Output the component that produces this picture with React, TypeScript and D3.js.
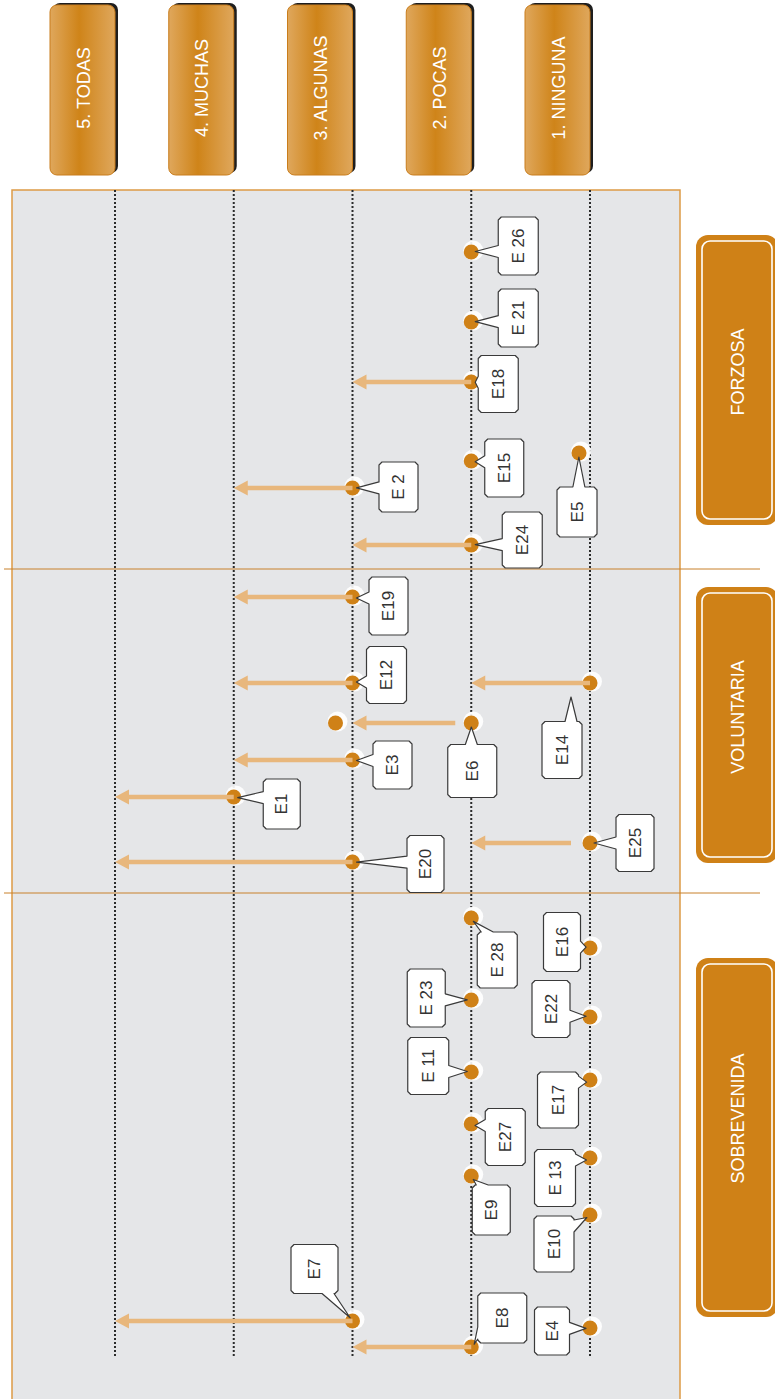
import React, { useRef, useEffect } from "react";
import * as d3 from "d3";

/* levels, left to right */
const levels = ["5. TODAS", "4. MUCHAS", "3. ALGUNAS", "2. POCAS", "1. NINGUNA"];
const levelValues = [5, 4, 3, 2, 1];

/* sections, top to bottom, as rows on the vertical axis */
const sections = ["FORZOSA", "VOLUNTARIA", "SOBREVENIDA"];
const sectionStart = [0, 379, 703];
const sectionEnd = [379, 703, 1209];

/* cases: label, level before, level after, row */
const forzosaCases = ["E 26", "E 21", "E18", "E15", "E5", "E 2", "E24"];
const forzosaFrom = [2, 2, 2, 2, 1, 3, 2];
const forzosaTo = [2, 2, 3, 2, 1, 4, 3];
const forzosaRow = [62, 132, 192, 271, 263, 298, 355];

const voluntariaCases = ["E19", "E12", "E14", "E6", "E3", "E1", "E25", "E20"];
const voluntariaFrom = [3, 3, 1, 2, 3, 4, 1, 3];
const voluntariaTo = [4, 4, 2, 3, 4, 5, 2, 5];
const voluntariaRow = [407, 493, 493, 533, 570, 607, 653, 672];

const sobrevenidaCases = ["E 28", "E16", "E 23", "E22", "E 11", "E17", "E27", "E 13", "E9", "E10", "E7", "E4", "E8"];
const sobrevenidaFrom = [2, 1, 2, 1, 2, 1, 2, 1, 2, 1, 3, 1, 2];
const sobrevenidaTo = [2, 1, 2, 1, 2, 1, 2, 1, 2, 1, 5, 1, 3];
const sobrevenidaRow = [728, 758, 810, 827, 882, 890, 934, 968, 986, 1025, 1131, 1138, 1157];

/* cases whose new level is also marked with a dot */
const markedArrival = ["E6"];

/* callout placement (box centre offset from the level line, box size) */
const calloutLayout: Record<string, any> = {
  "E 26": { dx: 47, dy: -6, w: 40, h: 58 },
  "E 21": { dx: 47, dy: -4, w: 40, h: 58 },
  E18: { dx: 27, dy: 2, w: 40, h: 57 },
  E15: { dx: 33, dy: 7, w: 39, h: 58 },
  E5: { dx: -13, dy: 59, w: 40, h: 50, shift: -11 },
  "E 2": { dx: 46, dy: -1, w: 39, h: 50 },
  E24: { dx: 51, dy: -5, w: 40, h: 56 },
  E19: { dx: 36, dy: 9, w: 39, h: 58 },
  E12: { dx: 34, dy: -8, w: 40, h: 57 },
  E14: { dx: -28, dy: 67, w: 40, h: 57, tip: [-19, 14] },
  E6: { dx: 1, dy: 48, w: 49, h: 53, gap: 16, endShift: -17 },
  E3: { dx: 40, dy: 5, w: 39, h: 48 },
  E1: { dx: 48, dy: 7, w: 37, h: 50 },
  E25: { dx: 45, dy: 0, w: 38, h: 57, gap: 19 },
  E20: { dx: 73, dy: 2, w: 37, h: 57 },
  "E 28": { dx: 26, dy: 42, w: 40, h: 56 },
  E16: { dx: -28, dy: -6, w: 37, h: 59 },
  "E 23": { dx: -45, dy: -2, w: 38, h: 58 },
  E22: { dx: -39, dy: -8, w: 38, h: 57 },
  "E 11": { dx: -43, dy: -6, w: 41, h: 57 },
  E17: { dx: -32, dy: 20, w: 41, h: 56 },
  E27: { dx: 34, dy: 13, w: 40, h: 57 },
  "E 13": { dx: -35, dy: 20, w: 41, h: 57 },
  E9: { dx: 20, dy: 34, w: 38, h: 50 },
  E10: { dx: -36, dy: 29, w: 40, h: 56 },
  E7: { dx: -38, dy: -52, w: 47, h: 49 },
  E4: { dx: -38, dy: 3, w: 35, h: 48 },
  E8: { dx: 31, dy: -29, w: 49, h: 50 },
};

/* section label box insets (top, bottom) and text shift */
const sectionInsetTop = [45, 18, 65];
const sectionInsetBottom = [44, 30, 82];
const sectionTextShift = [-8, -8, -19];

const W = 775;
const H = 1399;
const FONT = "'Liberation Sans', Arial, Helvetica, sans-serif";
const ORANGE = "#cf8117";
const ARROW = "#e8b77c";

/* callout path: chamfered box with a pointer towards (tx, ty) */
const calloutPath = (x0, y0, x1, y1, tx, ty) => {
  const c = 3;
  const b = 6;
  const ox = tx < x0 ? x0 - tx : tx > x1 ? tx - x1 : 0;
  const oy = ty < y0 ? y0 - ty : ty > y1 ? ty - y1 : 0;
  const side = ox >= oy ? (tx < x0 ? "left" : "right") : ty < y0 ? "top" : "bottom";
  const clamp = (v, lo, hi) => Math.max(lo, Math.min(hi, v));
  const by = clamp(ty, y0 + c + b + 1, y1 - c - b - 1);
  const bx = clamp(tx, x0 + c + b + 1, x1 - c - b - 1);
  const p = [];
  p.push(`M${x0 + c},${y0}`);
  if (side === "top") p.push(`L${bx - b},${y0}L${tx},${ty}L${bx + b},${y0}`);
  p.push(`L${x1 - c},${y0}L${x1},${y0 + c}`);
  if (side === "right") p.push(`L${x1},${by - b}L${tx},${ty}L${x1},${by + b}`);
  p.push(`L${x1},${y1 - c}L${x1 - c},${y1}`);
  if (side === "bottom") p.push(`L${bx + b},${y1}L${tx},${ty}L${bx - b},${y1}`);
  p.push(`L${x0 + c},${y1}L${x0},${y1 - c}`);
  if (side === "left") p.push(`L${x0},${by + b}L${tx},${ty}L${x0},${by - b}`);
  p.push(`L${x0},${y0 + c}Z`);
  return p.join("");
};

const App = () => {
  const svgRef = useRef(null);

  const drawChart = () => {
    const svg = d3.select(svgRef.current);
    svg.selectAll("*").remove();
    svg.attr("width", W).attr("height", H);

    const x = d3.scalePoint<number>().domain(levelValues).range([115, 590]);
    const y = d3.scaleLinear().domain([0, 1209]).range([190, 1399]);

    /* gradient for level buttons */
    const defs = svg.append("defs");
    const grad = defs
      .append("linearGradient")
      .attr("id", "btnGrad")
      .attr("x1", "0%")
      .attr("x2", "100%")
      .attr("y1", "0%")
      .attr("y2", "0%");
    grad.append("stop").attr("offset", "0%").attr("stop-color", "#dfa75c");
    grad.append("stop").attr("offset", "45%").attr("stop-color", "#cf8419");
    grad.append("stop").attr("offset", "100%").attr("stop-color", "#dfa75c");

    /* level buttons */
    const btnW = 65;
    const btn = svg
      .append("g")
      .selectAll("g")
      .data(levelValues)
      .enter()
      .append("g");
    btn
      .append("rect")
      .attr("x", (d) => x(d) - btnW + 3)
      .attr("y", 3)
      .attr("width", btnW)
      .attr("height", 170)
      .attr("rx", 7)
      .attr("fill", "#1e1e1e");
    btn
      .append("rect")
      .attr("x", (d) => x(d) - btnW)
      .attr("y", 5)
      .attr("width", btnW)
      .attr("height", 170)
      .attr("rx", 7)
      .attr("fill", "url(#btnGrad)")
      .attr("stroke", "#c97d1c")
      .attr("stroke-width", 1);
    btn
      .append("text")
      .attr("transform", (d) => `translate(${x(d) - btnW / 2 + 1}, 88) rotate(-90)`)
      .attr("text-anchor", "middle")
      .attr("dominant-baseline", "central")
      .attr("fill", "#ffffff")
      .style("font-family", FONT)
      .style("font-size", "18px")
      .text((d, i) => levels[i]);

    /* grey panel */
    svg
      .append("rect")
      .attr("x", 12)
      .attr("y", y(0))
      .attr("width", 668)
      .attr("height", y(1209) - y(0) + 2)
      .attr("fill", "#e5e6e8")
      .attr("stroke", "#dd9a45")
      .attr("stroke-width", 1.5);

    /* dotted level lines */
    svg
      .append("g")
      .selectAll("line")
      .data(levelValues)
      .enter()
      .append("line")
      .attr("x1", (d) => x(d))
      .attr("x2", (d) => x(d))
      .attr("y1", y(0))
      .attr("y2", y(1168))
      .attr("stroke", "#2b2b2b")
      .attr("stroke-width", 2)
      .attr("stroke-dasharray", "2 2");

    /* section dividers */
    svg
      .append("g")
      .selectAll("line")
      .data(sectionStart.slice(1))
      .enter()
      .append("line")
      .attr("x1", 4)
      .attr("x2", 760)
      .attr("y1", (d) => y(d))
      .attr("y2", (d) => y(d))
      .attr("stroke", "#c8802a")
      .attr("stroke-width", 1);

    /* section labels */
    const sec = svg
      .append("g")
      .selectAll("g")
      .data(sections)
      .enter()
      .append("g");
    const secTop = (i) => y(sectionStart[i]) + sectionInsetTop[i];
    const secBottom = (i) => y(sectionEnd[i]) - sectionInsetBottom[i];
    sec
      .append("rect")
      .attr("x", 696)
      .attr("y", (d, i) => secTop(i))
      .attr("width", 82)
      .attr("height", (d, i) => secBottom(i) - secTop(i))
      .attr("rx", 12)
      .attr("fill", ORANGE);
    sec
      .append("rect")
      .attr("x", 702)
      .attr("y", (d, i) => secTop(i) + 6)
      .attr("width", 70)
      .attr("height", (d, i) => secBottom(i) - secTop(i) - 12)
      .attr("rx", 8)
      .attr("fill", "none")
      .attr("stroke", "#ffffff")
      .attr("stroke-width", 1.6);
    sec
      .append("text")
      .attr(
        "transform",
        (d, i) => `translate(738, ${(secTop(i) + secBottom(i)) / 2 + sectionTextShift[i]}) rotate(-90)`
      )
      .attr("text-anchor", "middle")
      .attr("dominant-baseline", "central")
      .attr("fill", "#ffffff")
      .style("font-family", FONT)
      .style("font-size", "18px")
      .text((d) => d);

    /* all cases */
    const cases = [
      ...forzosaCases.map((c, i) => ({ label: c, from: forzosaFrom[i], to: forzosaTo[i], row: forzosaRow[i] })),
      ...voluntariaCases.map((c, i) => ({ label: c, from: voluntariaFrom[i], to: voluntariaTo[i], row: voluntariaRow[i] })),
      ...sobrevenidaCases.map((c, i) => ({ label: c, from: sobrevenidaFrom[i], to: sobrevenidaTo[i], row: sobrevenidaRow[i] })),
    ].map((d) => {
      const lay = calloutLayout[d.label] || { dx: 40, dy: 0, w: 40, h: 56 };
      return { ...d, lay, cx: x(d.from) + (lay.shift || 0), cy: y(d.row) };
    });

    const dots = [];
    cases.forEach((d) => {
      dots.push({ cx: d.cx, cy: d.cy });
      if (markedArrival.includes(d.label)) dots.push({ cx: x(d.to) + (d.lay.endShift || 0), cy: d.cy });
    });

    /* dots with white halo */
    const dotG = svg.append("g");
    dotG
      .selectAll(".halo")
      .data(dots)
      .enter()
      .append("circle")
      .attr("class", "halo")
      .attr("cx", (d) => d.cx + 2)
      .attr("cy", (d) => d.cy - 1.5)
      .attr("r", 10)
      .attr("fill", "#ffffff")
      .attr("opacity", 0.9);
    dotG
      .selectAll(".dot")
      .data(dots)
      .enter()
      .append("circle")
      .attr("class", "dot")
      .attr("cx", (d) => d.cx)
      .attr("cy", (d) => d.cy)
      .attr("r", 7.5)
      .attr("fill", ORANGE);

    /* arrows towards the new level */
    const moves = cases.filter((d) => d.to !== d.from);
    const arrowG = svg.append("g");
    arrowG
      .selectAll("line")
      .data(moves)
      .enter()
      .append("line")
      .attr("x1", (d) => d.cx - (d.lay.gap || 0))
      .attr("x2", (d) => x(d.to) + 12)
      .attr("y1", (d) => d.cy)
      .attr("y2", (d) => d.cy)
      .attr("stroke", ARROW)
      .attr("stroke-width", 4.5);
    arrowG
      .selectAll("path")
      .data(moves)
      .enter()
      .append("path")
      .attr("d", (d) => {
        const tx = x(d.to);
        return `M${tx},${d.cy}L${tx + 14},${d.cy - 7.5}L${tx + 14},${d.cy + 7.5}Z`;
      })
      .attr("fill", ARROW);

    /* callouts */
    const callG = svg
      .append("g")
      .selectAll("g")
      .data(cases)
      .enter()
      .append("g");
    callG
      .append("path")
      .attr("d", (d) => {
        const bx = x(d.from) + d.lay.dx;
        const by = d.cy + d.lay.dy;
        let tx, ty;
        if (d.lay.tip) {
          tx = d.cx + d.lay.tip[0];
          ty = d.cy + d.lay.tip[1];
        } else {
          const vx = bx - d.cx;
          const vy = by - d.cy;
          const len = Math.hypot(vx, vy) || 1;
          tx = d.cx + (vx / len) * 4;
          ty = d.cy + (vy / len) * 4;
        }
        return calloutPath(bx - d.lay.w / 2, by - d.lay.h / 2, bx + d.lay.w / 2, by + d.lay.h / 2, tx, ty);
      })
      .attr("fill", "#ffffff")
      .attr("stroke", "#3a3a3a")
      .attr("stroke-width", 1.2)
      .attr("stroke-linejoin", "round");
    callG
      .append("text")
      .attr("transform", (d) => `translate(${x(d.from) + d.lay.dx}, ${d.cy + d.lay.dy}) rotate(-90)`)
      .attr("text-anchor", "middle")
      .attr("dominant-baseline", "central")
      .attr("fill", "#333333")
      .style("font-family", FONT)
      .style("font-size", "17px")
      .text((d) => d.label);
  };

  useEffect(() => {
    drawChart();
  }, []);

  return (
    <div className="flowChart">
      <svg ref={svgRef} style={{ position: "absolute", left: 0, top: 0, display: "block" }} />
    </div>
  );
};

export default App;
